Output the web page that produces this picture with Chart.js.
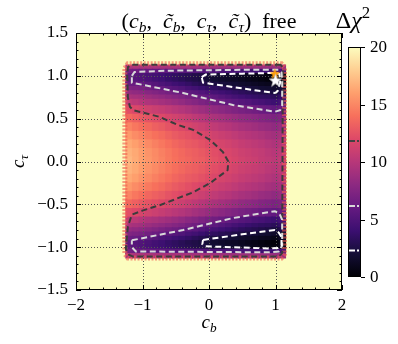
<!DOCTYPE html>
<html>
<head>
<meta charset="utf-8">
<script src="https://cdn.jsdelivr.net/npm/chart.js@4.4.0/dist/chart.umd.min.js"></script>
<style>
  html, body { margin: 0; padding: 0; background: #fff; }
</style>
</head>
<body>
<canvas id="chart_1" width="398" height="344"></canvas>
<script>
// scan grid: c_b columns, c_tau rows (top to bottom), delta chi^2
const cb_values = [-1.2, -1.1, -1.0, -0.9, -0.8, -0.7, -0.6, -0.5, -0.4, -0.3, -0.2, -0.1,
                   0.0, 0.1, 0.2, 0.3, 0.4, 0.5, 0.6, 0.7, 0.8, 0.9, 1.0, 1.1]
const ctau_values = [1.1, 1.05, 1.0, 0.95, 0.9, 0.85, 0.8, 0.75, 0.7, 0.6, 0.5, 0.4, 0.3, 0.2, 0.1,
                     0.0,
                     -0.1, -0.2, -0.3, -0.4, -0.5, -0.6, -0.7, -0.75, -0.8, -0.85, -0.9, -0.95, -1.0, -1.05, -1.1]
const dchi2_rows = [
  [9.5, 9.5, 9.4, 9.4, 9.3, 9.3, 9.2, 9.2, 9.1, 9.1, 9.0, 9.0, 9.0, 8.9, 8.9, 8.8, 8.8, 8.7, 8.7, 8.6, 8.6, 8.5, 8.5, 8.8],
  [6.8, 6.5, 6.2, 6.1, 5.9, 5.8, 5.6, 5.5, 5.4, 5.3, 5.2, 5.1, 5.0, 4.9, 4.8, 4.7, 4.6, 4.5, 4.4, 4.3, 4.2, 4.1, 4.0, 4.5],
  [5.7, 5.4, 5.0, 4.7, 4.4, 4.1, 3.8, 3.5, 3.2, 3.0, 2.7, 2.5, 2.2, 2.0, 1.8, 1.7, 1.5, 1.3, 1.1, 0.9, 0.7, 0.4, 0.2, 0.8],
  [5.6, 5.3, 5.1, 4.8, 4.4, 4.1, 3.7, 3.4, 3.1, 2.8, 2.6, 2.3, 2.0, 1.8, 1.6, 1.4, 1.3, 1.1, 0.9, 0.7, 0.5, 0.3, 0.1, 0.6],
  [6.4, 6.2, 6.0, 5.6, 5.3, 4.9, 4.6, 4.2, 3.9, 3.6, 3.2, 2.9, 2.6, 2.4, 2.2, 2.1, 1.9, 1.7, 1.5, 1.3, 1.1, 1.0, 0.8, 1.3],
  [7.4, 7.2, 7.0, 6.7, 6.3, 6.0, 5.6, 5.3, 5.0, 4.6, 4.3, 3.9, 3.6, 3.4, 3.1, 2.9, 2.6, 2.4, 2.2, 2.1, 1.9, 1.8, 1.6, 2.0],
  [8.4, 8.2, 8.0, 7.7, 7.4, 7.1, 6.8, 6.5, 6.2, 5.8, 5.5, 5.1, 4.8, 4.5, 4.2, 3.9, 3.6, 3.3, 3.1, 2.9, 2.7, 2.5, 2.3, 2.7],
  [9.4, 9.2, 9.0, 8.7, 8.4, 8.2, 7.9, 7.6, 7.3, 6.9, 6.6, 6.2, 5.9, 5.6, 5.2, 4.9, 4.5, 4.2, 3.9, 3.7, 3.5, 3.4, 3.2, 3.6],
  [10.5, 10.2, 9.9, 9.6, 9.4, 9.1, 8.9, 8.6, 8.3, 7.9, 7.6, 7.2, 6.9, 6.6, 6.3, 5.9, 5.6, 5.3, 5.1, 4.8, 4.6, 4.3, 4.1, 4.5],
  [12.2, 11.8, 11.5, 11.2, 10.9, 10.7, 10.4, 10.1, 9.8, 9.5, 9.1, 8.8, 8.5, 8.2, 7.9, 7.6, 7.3, 7.0, 6.8, 6.6, 6.3, 6.1, 5.9, 6.2],
  [13.6, 13.2, 12.8, 12.5, 12.2, 11.9, 11.6, 11.3, 11.0, 10.7, 10.3, 10.0, 9.7, 9.4, 9.1, 8.9, 8.6, 8.3, 8.1, 7.9, 7.6, 7.4, 7.2, 7.5],
  [14.8, 14.3, 13.9, 13.6, 13.2, 12.9, 12.5, 12.2, 11.9, 11.6, 11.3, 11.0, 10.7, 10.4, 10.1, 9.9, 9.6, 9.3, 9.1, 8.9, 8.6, 8.4, 8.2, 8.5],
  [15.7, 15.2, 14.8, 14.4, 14.0, 13.7, 13.3, 12.9, 12.6, 12.4, 12.1, 11.8, 11.5, 11.2, 10.9, 10.7, 10.4, 10.1, 9.9, 9.7, 9.5, 9.2, 9.0, 9.3],
  [16.4, 16.0, 15.5, 15.1, 14.7, 14.3, 13.9, 13.5, 13.2, 12.9, 12.7, 12.4, 12.1, 11.8, 11.5, 11.3, 11.0, 10.7, 10.5, 10.3, 10.1, 9.8, 9.6, 9.9],
  [16.8, 16.4, 15.9, 15.5, 15.1, 14.7, 14.3, 13.9, 13.6, 13.3, 13.1, 12.8, 12.5, 12.2, 11.9, 11.7, 11.4, 11.1, 10.9, 10.7, 10.5, 10.2, 10.0, 10.3],
  [17.0, 16.5, 16.0, 15.6, 15.2, 14.8, 14.4, 14.0, 13.7, 13.5, 13.2, 13.0, 12.7, 12.4, 12.1, 11.9, 11.6, 11.3, 11.1, 10.9, 10.6, 10.4, 10.2, 10.5],
  [16.8, 16.4, 15.9, 15.5, 15.1, 14.7, 14.3, 13.9, 13.6, 13.3, 13.1, 12.8, 12.5, 12.2, 11.9, 11.7, 11.4, 11.1, 10.9, 10.7, 10.5, 10.2, 10.0, 10.3],
  [16.4, 16.0, 15.5, 15.1, 14.7, 14.3, 13.9, 13.5, 13.2, 12.9, 12.7, 12.4, 12.1, 11.8, 11.5, 11.3, 11.0, 10.7, 10.5, 10.3, 10.1, 9.8, 9.6, 9.9],
  [15.7, 15.2, 14.8, 14.4, 14.0, 13.7, 13.3, 12.9, 12.6, 12.3, 12.0, 11.7, 11.5, 11.2, 10.9, 10.7, 10.4, 10.1, 9.9, 9.7, 9.5, 9.2, 9.0, 9.3],
  [14.8, 14.3, 13.9, 13.5, 13.2, 12.9, 12.5, 12.2, 11.9, 11.6, 11.3, 11.0, 10.7, 10.4, 10.1, 9.9, 9.6, 9.3, 9.1, 8.9, 8.6, 8.4, 8.2, 8.5],
  [13.6, 13.2, 12.8, 12.5, 12.2, 11.9, 11.6, 11.3, 11.0, 10.7, 10.3, 10.0, 9.7, 9.4, 9.1, 8.9, 8.6, 8.3, 8.1, 7.9, 7.6, 7.4, 7.2, 7.5],
  [12.2, 11.9, 11.6, 11.3, 11.0, 10.7, 10.4, 10.1, 9.8, 9.5, 9.1, 8.8, 8.5, 8.2, 7.9, 7.6, 7.3, 7.0, 6.8, 6.6, 6.3, 6.1, 5.9, 6.2],
  [10.5, 10.2, 9.9, 9.6, 9.4, 9.1, 8.9, 8.6, 8.3, 7.9, 7.6, 7.2, 6.9, 6.6, 6.3, 5.9, 5.6, 5.3, 5.1, 4.8, 4.6, 4.3, 4.1, 4.5],
  [9.4, 9.2, 9.0, 8.7, 8.4, 8.2, 7.9, 7.6, 7.3, 6.9, 6.6, 6.2, 5.9, 5.6, 5.2, 4.9, 4.5, 4.2, 3.9, 3.7, 3.5, 3.4, 3.2, 3.6],
  [8.4, 8.2, 8.0, 7.7, 7.4, 7.1, 6.8, 6.5, 6.2, 5.8, 5.5, 5.1, 4.8, 4.5, 4.2, 3.9, 3.6, 3.3, 3.1, 2.9, 2.7, 2.5, 2.3, 2.7],
  [7.4, 7.2, 7.0, 6.7, 6.3, 6.0, 5.6, 5.3, 5.0, 4.6, 4.3, 3.9, 3.6, 3.4, 3.1, 2.9, 2.6, 2.4, 2.2, 2.1, 1.9, 1.8, 1.6, 2.0],
  [6.4, 6.2, 6.0, 5.6, 5.3, 4.9, 4.6, 4.2, 3.9, 3.6, 3.2, 2.9, 2.6, 2.4, 2.2, 2.1, 1.9, 1.7, 1.5, 1.3, 1.1, 1.0, 0.8, 1.3],
  [5.6, 5.3, 5.1, 4.8, 4.4, 4.1, 3.7, 3.4, 3.1, 2.8, 2.6, 2.3, 2.0, 1.8, 1.6, 1.4, 1.3, 1.1, 0.9, 0.7, 0.5, 0.3, 0.2, 0.6],
  [5.7, 5.4, 5.0, 4.7, 4.4, 4.1, 3.8, 3.5, 3.2, 3.0, 2.7, 2.5, 2.2, 2.0, 1.8, 1.7, 1.5, 1.3, 1.1, 0.9, 0.7, 0.5, 0.4, 0.9],
  [6.8, 6.5, 6.2, 6.1, 5.9, 5.8, 5.6, 5.5, 5.4, 5.3, 5.2, 5.1, 5.0, 4.9, 4.8, 4.7, 4.6, 4.5, 4.4, 4.3, 4.2, 4.1, 4.0, 4.5],
  [9.5, 9.5, 9.4, 9.4, 9.3, 9.3, 9.2, 9.2, 9.1, 9.1, 9.0, 9.0, 9.0, 8.9, 8.9, 8.8, 8.8, 8.7, 8.7, 8.6, 8.6, 8.5, 8.5, 8.8]
]
const ctau_edge = 1.125   // outer edge of the scanned band
const dchi2_max = 20

// contour lines (c_b, c_tau)
const contour_3sigma = [[1.08, 1.13], [0.5, 1.13], [-0.5, 1.13], [-1.17, 1.13], [-1.22, 1.10], [-1.23, 1.0],
  [-1.22, 0.75], [-1.19, 0.64], [-1.14, 0.60], [-0.74, 0.52], [-0.48, 0.43], [-0.24, 0.37], [0.02, 0.25],
  [0.21, 0.11], [0.29, 0.0], [0.28, -0.1], [0.02, -0.25], [-0.24, -0.36], [-0.74, -0.51], [-0.99, -0.57],
  [-1.16, -0.62], [-1.22, -0.76], [-1.25, -1.02], [-1.20, -1.09], [-1.14, -1.11], [1.05, -1.11],
  [1.10, -1.07], [1.11, 1.08], [1.08, 1.13]]
const contour_2sigma_up = [[-1.16, 1.00], [-1.12, 1.045], [-0.6, 1.06], [0.5, 1.07], [1.05, 1.07], [1.09, 1.04],
  [1.10, 0.95], [1.10, 0.65], [1.07, 0.60], [0.99, 0.58], [0.36, 0.66], [-0.39, 0.80], [-1.16, 0.92], [-1.16, 1.00]]
const contour_2sigma_down = [[-1.16, -0.92], [-0.39, -0.80], [0.36, -0.66], [0.99, -0.58], [1.06, -0.61],
  [1.10, -0.68], [1.10, -0.98], [1.05, -1.05], [0.9, -1.06], [-1.1, -1.05], [-1.16, -1.0], [-1.16, -0.92]]
const contour_1sigma_up = [[-0.11, 0.985], [-0.05, 1.015], [0.5, 1.025], [1.0, 1.035], [1.06, 1.02], [1.07, 0.92],
  [1.03, 0.82], [0.99, 0.80], [0.5, 0.853], [-0.09, 0.92], [-0.11, 0.985]]
const contour_1sigma_down = [[-0.09, -0.915], [0.5, -0.85], [0.99, -0.80], [1.05, -0.83], [1.09, -0.88],
  [1.09, -0.98], [1.04, -1.01], [0.9, -1.015], [-0.05, -0.99], [-0.10, -0.965], [-0.09, -0.915]]
const scan_border = [[-1.265, 1.09], [-1.22, 1.14], [1.09, 1.14], [1.135, 1.1], [1.135, -1.08], [1.09, -1.125],
  [-1.22, -1.125], [-1.265, -1.08], [-1.265, 1.09]]

const best_fit = [{x: 1.0, y: 0.95}]
const sm_point = [{x: 0.99, y: 1.03}]

const cbar_ticks = [0, 5, 10, 15, 20]
const sigma_levels = [2.30, 6.18, 11.83]
const sigma_colors = ['#ffffff', '#d8d8d8', '#424242']

const SERIF = "'Liberation Serif', 'DejaVu Serif', serif"
const magma_stops = ['#000004', '#140e36', '#3b0f70', '#641a80', '#8c2981', '#b73779',
                     '#de4968', '#f7705c', '#fe9f6d', '#fecf92', '#fcfdbf']
const MAGMA = magma_stops.map(h => [1, 3, 5].map(i => parseInt(h.slice(i, i + 2), 16)))

function magma(t) {
  t = Math.max(0, Math.min(1, t))
  let p = t * (MAGMA.length - 1)
  let i = Math.min(Math.floor(p), MAGMA.length - 2)
  let f = p - i
  let c = [0, 1, 2].map(k => Math.round(MAGMA[i][k] + (MAGMA[i + 1][k] - MAGMA[i][k]) * f))
  return 'rgb(' + c.join(',') + ')'
}

function fmt(v, d) {
  let s = Math.abs(v).toFixed(d)
  return (v < -1e-9 ? '\u2212' : '') + s
}

function starCanvas(size, fill, stroke) {
  let c = document.createElement('canvas')
  c.width = c.height = size
  let g = c.getContext('2d')
  let r = size / 2 - 0.8, ri = r * 0.42, m = size / 2
  g.beginPath()
  for (let k = 0; k < 10; k++) {
    let a = -Math.PI / 2 + k * Math.PI / 5
    let rr = k % 2 ? ri : r
    g.lineTo(m + rr * Math.cos(a), m + rr * Math.sin(a) + 0.8)
  }
  g.closePath()
  g.fillStyle = fill
  g.fill()
  if (stroke) { g.strokeStyle = stroke; g.lineWidth = 0.6; g.stroke() }
  return c
}

// text with math bits: r roman, i italic, s italic subscript, p superscript
function drawMath(ctx, parts, x, y, size, rot) {
  ctx.save()
  ctx.translate(x, y)
  if (rot) ctx.rotate(rot)
  let items = parts.map(([t, k]) => {
    let s = (k === 's' || k === 'p') ? size * 0.7 : size
    let font = ((k === 'i' || k === 's') ? 'italic ' : '') + s + 'px ' + SERIF
    ctx.font = font
    return { t, font, w: ctx.measureText(t).width, dy: k === 's' ? size * 0.2 : (k === 'p' ? -size * 0.42 : 0) }
  })
  let total = items.reduce((a, b) => a + b.w, 0)
  let cx = -total / 2
  ctx.fillStyle = '#000'
  ctx.textAlign = 'left'
  ctx.textBaseline = 'alphabetic'
  items.forEach(it => { ctx.font = it.font; ctx.fillText(it.t, cx, it.dy); cx += it.w })
  ctx.restore()
}

// heatmap cells as floating bars
let cells = []
ctau_values.forEach((ct, i) => {
  let hi = i === 0 ? ctau_edge : (ctau_values[i - 1] + ct) / 2
  let lo = i === ctau_values.length - 1 ? -ctau_edge : (ct + ctau_values[i + 1]) / 2
  cb_values.forEach((cb, j) => cells.push({ x: cb, y: [lo, hi], v: dchi2_rows[i][j] }))
})

const toXY = pts => pts.map(p => ({ x: p[0], y: p[1] }))
const PLOT_W = 398 - 56 - 76
const CELL_PX = PLOT_W / 4 * 0.1

const bgPlugin = {
  id: 'bg',
  beforeDatasetsDraw(chart) {
    let a = chart.chartArea, ctx = chart.ctx
    ctx.save()
    ctx.fillStyle = magma(1)
    ctx.fillRect(a.left, a.top, a.right - a.left, a.bottom - a.top)
    ctx.restore()
  }
}

const gridPlugin = {
  id: 'dotgrid',
  afterDatasetDraw(chart, args) {
    if (args.meta.type !== 'bar') return
    let a = chart.chartArea, ctx = chart.ctx
    let xs = chart.scales.x, ys = chart.scales.y
    ctx.save()
    ctx.strokeStyle = '#555'
    ctx.lineWidth = 1
    ctx.setLineDash([1, 2])
    ;[-1, 0, 1].forEach(v => {
      let px = Math.round(xs.getPixelForValue(v)) + 0.5
      ctx.beginPath(); ctx.moveTo(px, a.top); ctx.lineTo(px, a.bottom); ctx.stroke()
    })
    ;[-1, -0.5, 0, 0.5, 1].forEach(v => {
      let py = Math.round(ys.getPixelForValue(v)) + 0.5
      ctx.beginPath(); ctx.moveTo(a.left, py); ctx.lineTo(a.right, py); ctx.stroke()
    })
    ctx.restore()
  }
}

const decoPlugin = {
  id: 'deco',
  afterDraw(chart) {
    let a = chart.chartArea, ctx = chart.ctx
    let xs = chart.scales.x, ys = chart.scales.y
    ctx.save()
    ctx.strokeStyle = '#000'
    ctx.lineWidth = 1
    ctx.strokeRect(a.left + 0.5, a.top + 0.5, a.right - a.left - 1, a.bottom - a.top - 1)
    // inward ticks on all four sides
    ctx.beginPath()
    for (let k = 0; k <= 20; k++) {
      let v = -2 + k * 0.2
      let len = k % 5 === 0 ? 5 : 2.5
      let px = Math.round(xs.getPixelForValue(v)) + 0.5
      ctx.moveTo(px, a.bottom); ctx.lineTo(px, a.bottom - len)
      ctx.moveTo(px, a.top); ctx.lineTo(px, a.top + len)
    }
    for (let k = 0; k <= 30; k++) {
      let v = -1.5 + k * 0.1
      let len = k % 5 === 0 ? 5 : 2.5
      let py = Math.round(ys.getPixelForValue(v)) + 0.5
      ctx.moveTo(a.left, py); ctx.lineTo(a.left + len, py)
      ctx.moveTo(a.right, py); ctx.lineTo(a.right - len, py)
    }
    ctx.stroke()

    // title and axis labels
    drawMath(ctx, [['(', 'r'], ['c', 'i'], ['b', 's'], [',  ', 'r'], ['c\u0303', 'i'], ['b', 's'], [',  ', 'r'],
      ['c', 'i'], ['\u03c4', 's'], [',  ', 'r'], ['c\u0303', 'i'], ['\u03c4', 's'], [')', 'r'], ['  free', 'r']],
      209, 28, 22)
    drawMath(ctx, [['c', 'i'], ['b', 's']], 209, 328, 19)
    drawMath(ctx, [['c', 'i'], ['\u03c4', 's']], 24, (a.top + a.bottom) / 2, 19, -Math.PI / 2)

    // colorbar
    const L = 348, R = 361, T = 47, B = 277
    let grad = ctx.createLinearGradient(0, B, 0, T)
    magma_stops.forEach((c, i) => grad.addColorStop(i / (magma_stops.length - 1), c))
    ctx.fillStyle = grad
    ctx.fillRect(L, T, R - L, B - T)
    sigma_levels.forEach((lv, i) => {
      let py = B - (B - T) * lv / dchi2_max
      ctx.strokeStyle = sigma_colors[i]
      ctx.lineWidth = 2
      ctx.setLineDash([7, 2, 2, 2])
      ctx.beginPath(); ctx.moveTo(L, py); ctx.lineTo(R, py); ctx.stroke()
    })
    ctx.setLineDash([])
    ctx.strokeStyle = '#000'
    ctx.lineWidth = 1
    ctx.strokeRect(L + 0.5, T + 0.5, R - L - 1, B - T - 1)
    ctx.fillStyle = '#000'
    ctx.font = '17px ' + SERIF
    ctx.textAlign = 'left'
    ctx.textBaseline = 'middle'
    ctx.beginPath()
    cbar_ticks.forEach(t => {
      let py = Math.round(B - (B - T) * t / dchi2_max) + 0.5
      ctx.moveTo(R, py); ctx.lineTo(R + 4, py)
      ctx.fillText(String(t), R + 9, py)
    })
    ctx.stroke()
    drawMath(ctx, [['\u0394', 'r'], ['\u03c7', 'i'], ['2', 'p']], 353, 28, 24)
    ctx.restore()
  }
}

const lineSet = (pts, color, order) => ({
  type: 'line', data: toXY(pts), borderColor: color, borderWidth: 2, borderDash: [6, 3.5],
  pointRadius: 0, tension: 0, fill: false, order: order
})

new Chart(document.getElementById('chart_1'), {
  type: 'bar',
  data: {
    datasets: [
      { type: 'scatter', data: best_fit, pointStyle: starCanvas(15, '#ffffff', '#bbbbbb'), order: 0 },
      { type: 'scatter', data: sm_point, pointStyle: starCanvas(13, '#ffa010', null), order: 1 },
      lineSet(contour_1sigma_up, '#ffffff', 2),
      lineSet(contour_1sigma_down, '#ffffff', 2),
      lineSet(contour_2sigma_up, '#d8d8d8', 3),
      lineSet(contour_2sigma_down, '#d8d8d8', 3),
      lineSet(contour_3sigma, '#3c3c3c', 4),
      { type: 'line', data: toXY(scan_border), borderColor: 'rgba(240,92,78,0.6)', borderWidth: 5,
        borderDash: [2, 1.5], pointRadius: 0, fill: false, order: 5 },
      { type: 'bar', data: cells, backgroundColor: c => magma(c.raw.v / dchi2_max), borderWidth: 0,
        barThickness: CELL_PX, inflateAmount: 0.6, order: 6 }
    ]
  },
  options: {
    responsive: false,
    animation: false,
    events: [],
    layout: { padding: { left: 0, right: 56, top: 33, bottom: 0 } },
    plugins: { legend: { display: false }, tooltip: { enabled: false }, title: { display: false } },
    scales: {
      x: {
        type: 'linear', min: -2, max: 2, offset: false,
        grid: { display: false, drawTicks: false }, border: { display: false },
        ticks: { stepSize: 1, padding: 5, color: '#000', maxRotation: 0, autoSkip: false,
                 font: { family: SERIF, size: 17 }, callback: v => fmt(v, 0) },
        afterFit: s => { s.height = 54 }
      },
      y: {
        type: 'linear', min: -1.5, max: 1.5,
        grid: { display: false, drawTicks: false }, border: { display: false },
        ticks: { stepSize: 0.5, padding: 8, color: '#000', autoSkip: false,
                 font: { family: SERIF, size: 17 }, callback: v => fmt(v, 1) },
        afterFit: s => { s.width = 76 }
      }
    }
  },
  plugins: [bgPlugin, gridPlugin, decoPlugin]
})
</script>
</body>
</html>
